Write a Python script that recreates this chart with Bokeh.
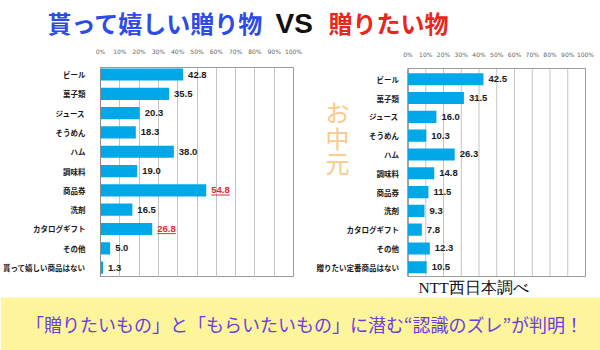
from bokeh.plotting import figure
from bokeh.layouts import column, row
from bokeh.models import Range1d, FixedTicker, PrintfTickFormatter, ColumnDataSource, Span
from bokeh.embed import file_html
from bokeh.resources import INLINE
from bokeh.core.properties import value

# ---------------- data ----------------
left_cats = ["ビール", "菓子類", "ジュース", "そうめん", "ハム", "調味料", "商品券", "洗剤",
             "カタログギフト", "その他", "貰って嬉しい商品はない"]
left_vals = [42.8, 35.5, 20.3, 18.3, 38.0, 19.0, 54.8, 16.5, 26.8, 5.0, 1.3]
left_highlight = [False, False, False, False, False, False, True, False, True, False, False]

right_cats = ["ビール", "菓子類", "ジュース", "そうめん", "ハム", "調味料", "商品券", "洗剤",
              "カタログギフト", "その他", "贈りたい定番商品はない"]
right_vals = [42.5, 31.5, 16.0, 10.3, 26.3, 14.8, 11.5, 9.3, 7.8, 12.3, 10.5]

tick_values = [0, 10, 20, 30, 40, 50, 60, 70, 80, 90, 100]

title_left = "貰って嬉しい贈り物"
title_vs = "VS"
title_right = "贈りたい物"
side_text = ["お", "中", "元"]
source_text = "NTT西日本調べ"
footer_text = "「贈りたいもの」と「もらいたいもの」に潜む“認識のズレ”が判明！"

BAR = "#00a8e8"
RED = "#e8262b"
JP = "Noto Sans CJK JP"
GRID = "#c4c4c4"
FRAME = "#9a9a9a"

ROW_H = 233  # middle row, page y 44..277


def style_top_axis(p, standoff):
    xa = p.xaxis[0]
    xa.ticker = FixedTicker(ticks=tick_values)
    xa.formatter = PrintfTickFormatter(format="%d%%")
    xa.major_tick_line_color = None
    xa.minor_tick_line_color = None
    xa.axis_line_color = None
    xa.major_label_text_font = "DejaVu Sans"
    xa.major_label_text_font_size = "6px"
    xa.major_label_text_color = "#666666"
    xa.major_label_standoff = standoff


def add_values(p, src):
    p.hbar(y="y", right="v", left=0, height="h", source=src,
           fill_color=BAR, line_color=None)
    p.text(x="v", y="y", text="txt", source=src, x_offset=5,
           text_baseline="middle", text_align="left", text_color="tc",
           text_font=value("Liberation Sans"), text_font_style="bold",
           text_font_size="9.5px")


# ---------------- left chart (real axes) ----------------
n = len(left_cats)
ys = list(range(n))
lsrc = ColumnDataSource(dict(
    y=ys, v=left_vals, h=[0.63] * n,
    txt=[f"{v:.1f}" for v in left_vals],
    tc=[RED if h else "#1a1a1a" for h in left_highlight],
))
left = figure(width=310, height=ROW_H, x_range=Range1d(0, 100),
              y_range=Range1d(10 + 10.3 / 20.14, -7.3 / 20.14),
              x_axis_location="above", toolbar_location=None, output_backend="svg",
              min_border_left=100, min_border_right=17, min_border_top=14,
              min_border_bottom=0)
left.outline_line_color = FRAME
left.xgrid.grid_line_color = GRID
left.ygrid.grid_line_color = None
style_top_axis(left, 7)
ya = left.yaxis[0]
ya.ticker = FixedTicker(ticks=ys)
ya.major_label_overrides = {i: c for i, c in enumerate(left_cats)}
ya.major_tick_line_color = None
ya.minor_tick_line_color = None
ya.axis_line_color = "#8a8a8a"
ya.major_label_text_font = JP
ya.major_label_text_font_style = "bold"
ya.major_label_text_font_size = "7.5px"
ya.major_label_text_color = "#1a1a1a"
ya.major_label_standoff = 9
add_values(left, lsrc)
# underline for highlighted values
lpx = 1.93
hx0 = [v + 5 / lpx for v, h in zip(left_vals, left_highlight) if h]
hx1 = [v + 23.5 / lpx for v, h in zip(left_vals, left_highlight) if h]
hy = [i + 0.24 for i, h in zip(ys, left_highlight) if h]
left.segment(x0=hx0, y0=hy, x1=hx1, y1=hy, line_color=RED, line_width=1)

# ---------------- right chart (frame widened to hold side text) ----------------
m = len(right_cats)
rys = list(range(m))
rpx = 1.775          # pixels per percent
slot = 19.7          # pixels per category
box_top = -11.3 / slot
box_bot = (m - 1) + 9.7 / slot
rsrc = ColumnDataSource(dict(
    y=rys, v=right_vals, h=[0.645] * m,
    txt=[f"{v:.1f}" for v in right_vals],
    tc=["#1a1a1a"] * m, cat=right_cats,
))
right = figure(width=290, height=ROW_H,
               x_range=Range1d(-97.5 / rpx, 100 + 15 / rpx),
               y_range=Range1d(box_bot + 1 / slot, box_top - 1 / slot),
               x_axis_location="above", y_axis_location=None,
               toolbar_location=None, output_backend="svg",
               min_border_left=0, min_border_right=0, min_border_top=13,
               min_border_bottom=0)
right.outline_line_color = None
right.xgrid.grid_line_color = None
right.ygrid.grid_line_color = None
style_top_axis(right, 4)
right.segment(x0=tick_values, x1=tick_values, y0=[box_top] * len(tick_values),
              y1=[box_bot] * len(tick_values), line_color=GRID, line_width=1)
right.quad(left=[tick_values[0]], right=[tick_values[-1]], top=[box_top], bottom=[box_bot],
           fill_color=None, line_color=FRAME, line_width=1)
right.segment(x0=[0], x1=[0], y0=[box_top], y1=[box_bot], line_color="#8a8a8a")
add_values(right, rsrc)
right.text(x=0, y="y", text="cat", source=rsrc, x_offset=-9,
           text_align="right", text_baseline="middle", text_color="#1a1a1a",
           text_font=value(JP), text_font_style="bold", text_font_size="7.5px")
# お中元 (vertical)
right.text(x=[-39.7] * 3, y=[1.71, 3.08, 4.45], text=side_text,
           text_align="center", text_baseline="middle", text_color="#fcc88c",
           text_font=value(JP), text_font_size="24px")

# ---------------- title ----------------
top = figure(width=600, height=44, x_range=Range1d(0, 600), y_range=Range1d(44, 0),
             x_axis_type=None, y_axis_type=None, toolbar_location=None,
             output_backend="svg", min_border=0)
top.outline_line_color = None
top.grid.visible = False
top.text(x=[47], y=[22], text=[title_left], text_baseline="middle",
         text_font=value(JP), text_font_style="bold", text_font_size="24px",
         text_color="#2c4be8")
top.text(x=[275], y=[23], text=[title_vs], text_baseline="middle",
         text_font=value("Liberation Sans"), text_font_style="bold",
         text_font_size="28px", text_color="#111111")
top.text(x=[328], y=[22], text=[title_right], text_baseline="middle",
         text_font=value(JP), text_font_style="bold", text_font_size="24px",
         text_color="#e8261c")

# ---------------- footer (page y 277..350) ----------------
bottom = figure(width=600, height=73, x_range=Range1d(0, 600), y_range=Range1d(73, 0),
                x_axis_type=None, y_axis_type=None, toolbar_location=None,
                output_backend="svg", min_border=0)
bottom.outline_line_color = None
bottom.grid.visible = False
bottom.quad(left=[0], right=[600], top=[20], bottom=[73], fill_color="#fdf49c",
            line_color=None)
bottom.text(x=[418], y=[10], text=[source_text], text_baseline="middle",
            text_align="left", text_font=value("Liberation Serif"),
            text_font_size="15.5px", text_color="#111111")
bottom.text(x=[304], y=[46], text=[footer_text], text_baseline="middle",
            text_align="center", text_font=value(JP), text_font_size="18px",
            text_color="#6a3ee0")

layout = column(top, row(left, right, spacing=0), bottom, spacing=0)
open("out.html", "w").write(file_html(layout, INLINE))
